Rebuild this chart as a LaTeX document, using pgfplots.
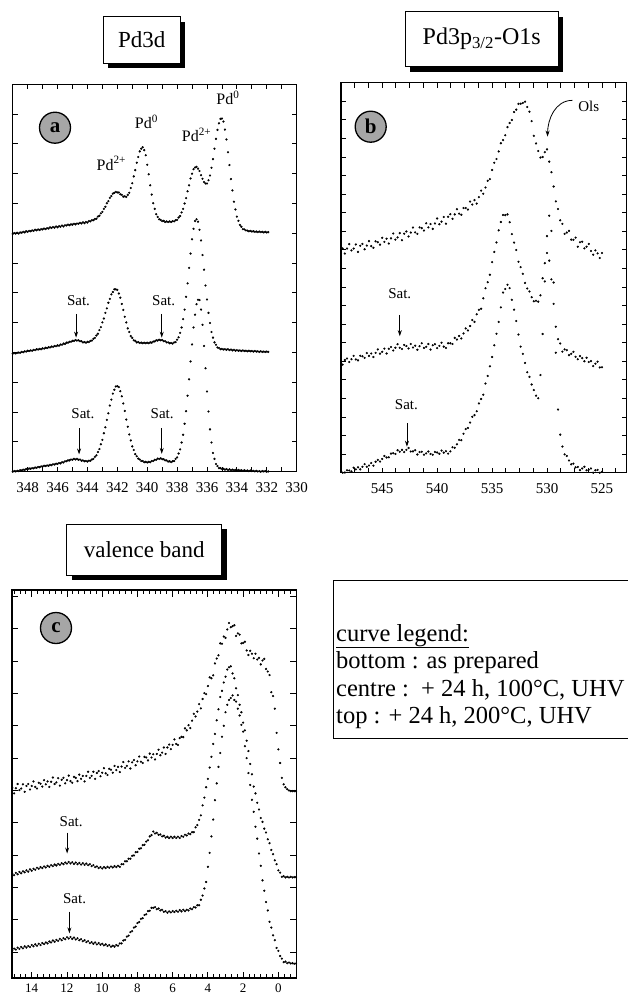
\documentclass[border=0pt]{standalone}
\usepackage{fontspec}
\setmainfont{Liberation Serif}
\usepackage{pgfplots}
\usepackage{pgfplotstable}
\pgfplotsset{compat=1.18}
\usetikzlibrary{arrows.meta}

\pgfplotstableread{
x b c t
349.0 0.00 3.96 7.98
348.9 0.02 3.98 8.01
348.8 0.01 3.97 7.99
348.7 0.03 3.99 8.02
348.6 0.02 4.00 7.99
348.5 0.05 3.99 8.03
348.4 0.04 4.02 8.02
348.3 0.07 4.01 8.05
348.2 0.06 4.04 8.03
348.1 0.09 4.03 8.07
348.0 0.08 4.06 8.05
347.9 0.11 4.05 8.08
347.8 0.10 4.07 8.07
347.7 0.12 4.06 8.10
347.6 0.11 4.09 8.08
347.5 0.14 4.08 8.12
347.4 0.13 4.11 8.10
347.3 0.16 4.10 8.13
347.2 0.15 4.12 8.11
347.1 0.18 4.11 8.14
347.0 0.17 4.14 8.13
346.9 0.20 4.13 8.16
346.8 0.19 4.16 8.14
346.7 0.21 4.15 8.17
346.6 0.20 4.18 8.16
346.5 0.23 4.17 8.20
346.4 0.22 4.20 8.18
346.3 0.25 4.19 8.21
346.2 0.24 4.22 8.19
346.1 0.27 4.21 8.23
346.0 0.26 4.24 8.20
345.9 0.29 4.23 8.24
345.8 0.28 4.27 8.22
345.7 0.32 4.26 8.26
345.6 0.31 4.30 8.23
345.5 0.35 4.29 8.27
345.4 0.35 4.33 8.26
345.3 0.38 4.33 8.29
345.2 0.38 4.36 8.27
345.1 0.41 4.36 8.30
345.0 0.40 4.39 8.29
344.9 0.43 4.39 8.32
344.8 0.41 4.42 8.30
344.7 0.43 4.40 8.33
344.6 0.40 4.41 8.32
344.5 0.41 4.38 8.35
344.4 0.37 4.38 8.33
344.3 0.38 4.34 8.37
344.2 0.35 4.35 8.34
344.1 0.36 4.33 8.38
344.0 0.34 4.36 8.36
343.9 0.37 4.35 8.41
343.8 0.37 4.39 8.40
343.7 0.41 4.40 8.44
343.6 0.43 4.46 8.44
343.5 0.50 4.49 8.48
343.4 0.55 4.57 8.49
343.3 0.66 4.63 8.56
343.2 0.76 4.75 8.59
343.1 0.92 4.85 8.67
343.0 1.07 5.01 8.72
342.9 1.29 5.14 8.82
342.8 1.49 5.33 8.89
342.7 1.74 5.48 9.01
342.6 1.96 5.67 9.08
342.5 2.22 5.80 9.19
342.4 2.42 5.95 9.25
342.3 2.62 6.03 9.33
342.2 2.75 6.12 9.36
342.1 2.86 6.12 9.39
342.0 2.87 6.10 9.37
341.9 2.84 5.98 9.37
341.8 2.70 5.84 9.31
341.7 2.53 5.63 9.29
341.6 2.29 5.43 9.23
341.5 2.04 5.20 9.24
341.4 1.75 5.01 9.22
341.3 1.51 4.81 9.29
341.2 1.25 4.69 9.36
341.1 1.05 4.55 9.52
341.0 0.85 4.49 9.68
340.9 0.73 4.41 9.91
340.8 0.59 4.39 10.12
340.7 0.52 4.34 10.37
340.6 0.44 4.35 10.56
340.5 0.41 4.32 10.75
340.4 0.36 4.33 10.84
340.3 0.36 4.31 10.89
340.2 0.32 4.33 10.79
340.1 0.33 4.31 10.62
340.0 0.31 4.33 10.30
339.9 0.33 4.31 9.98
339.8 0.32 4.34 9.61
339.7 0.36 4.33 9.30
339.6 0.36 4.37 9.01
339.5 0.40 4.37 8.82
339.4 0.40 4.41 8.64
339.3 0.44 4.40 8.55
339.2 0.43 4.43 8.47
339.1 0.45 4.41 8.45
339.0 0.42 4.42 8.41
338.9 0.42 4.38 8.42
338.8 0.38 4.38 8.38
338.7 0.38 4.34 8.40
338.6 0.34 4.34 8.38
338.5 0.35 4.31 8.40
338.4 0.32 4.32 8.38
338.3 0.35 4.30 8.41
338.2 0.36 4.34 8.40
338.1 0.43 4.35 8.44
338.0 0.48 4.43 8.45
337.9 0.61 4.51 8.53
337.8 0.75 4.66 8.58
337.7 0.98 4.84 8.70
337.6 1.24 5.12 8.82
337.5 1.61 5.44 9.00
337.4 2.03 5.87 9.18
337.3 2.55 6.32 9.41
337.2 3.10 6.84 9.61
337.1 3.70 7.32 9.84
337.0 4.27 7.80 10.00
336.9 4.84 8.15 10.15
336.8 5.27 8.41 10.21
336.7 5.62 8.47 10.23
336.6 5.77 8.39 10.17
336.5 5.76 8.12 10.09
336.4 5.44 7.76 9.95
336.3 4.93 7.27 9.83
336.2 4.22 6.78 9.72
336.1 3.47 6.25 9.67
336.0 2.69 5.78 9.67
335.9 2.02 5.33 9.78
335.8 1.42 4.99 9.94
335.7 0.98 4.69 10.20
335.6 0.63 4.50 10.49
335.5 0.43 4.34 10.84
335.4 0.26 4.26 11.17
335.3 0.19 4.17 11.47
335.2 0.12 4.15 11.69
335.1 0.12 4.11 11.84
335.0 0.09 4.12 11.85
334.9 0.10 4.10 11.75
334.8 0.07 4.11 11.48
334.7 0.09 4.09 11.15
334.6 0.06 4.11 10.72
334.5 0.08 4.08 10.29
334.4 0.05 4.10 9.82
334.3 0.07 4.07 9.44
334.2 0.05 4.09 9.06
334.1 0.06 4.06 8.80
334.0 0.04 4.08 8.56
333.9 0.06 4.06 8.42
333.8 0.04 4.07 8.28
333.7 0.05 4.05 8.22
333.6 0.03 4.07 8.14
333.5 0.05 4.05 8.13
333.4 0.03 4.06 8.10
333.3 0.04 4.04 8.09
333.2 0.02 4.06 8.07
333.1 0.04 4.04 8.08
333.0 0.02 4.05 8.06
332.9 0.03 4.03 8.07
332.8 0.01 4.05 8.05
332.7 0.03 4.03 8.06
332.6 0.01 4.04 8.04
332.5 0.02 4.02 8.06
332.4 0.00 4.04 8.04
332.3 0.02 4.02 8.05
332.2 0.01 4.03 8.03
332.1 0.02 4.02 8.05
332.0 0.00 4.03 8.03
331.9 0.01 4.02 8.04
}\dataA

\pgfplotstableread{
x b c t
548.6 0.00 5.82 12.08
548.4 0.01 6.07 11.80
548.2 0.13 6.15 12.07
548.0 0.12 5.96 12.31
547.8 0.07 6.11 11.97
547.6 0.27 6.29 12.07
547.4 0.18 6.10 12.29
547.2 0.29 6.05 11.89
547.0 0.18 6.30 12.22
546.8 0.32 6.27 12.32
546.6 0.46 6.18 12.03
546.4 0.32 6.44 12.23
546.2 0.39 6.29 12.47
546.0 0.52 6.42 12.20
545.8 0.38 6.23 12.11
545.6 0.59 6.45 12.46
545.4 0.69 6.64 12.41
545.2 0.60 6.41 12.28
545.0 0.74 6.51 12.65
544.8 0.90 6.68 12.43
544.6 0.82 6.42 12.60
544.4 0.83 6.67 12.34
544.2 1.03 6.77 12.62
544.0 1.05 6.58 12.88
543.8 1.01 6.73 12.55
543.6 1.21 6.92 12.67
543.4 1.13 6.73 12.90
543.2 1.23 6.66 12.52
543.0 1.11 6.88 12.87
542.8 1.23 6.82 12.99
542.6 1.33 6.69 12.72
542.4 1.14 6.93 12.93
542.2 1.15 6.74 13.20
542.0 1.21 6.84 12.94
541.8 0.98 6.62 12.86
541.6 1.11 6.81 13.21
541.4 1.13 6.97 13.17
541.2 0.97 6.72 13.04
541.0 1.04 6.78 13.43
540.8 1.14 6.93 13.21
540.6 1.01 6.63 13.39
540.4 0.97 6.86 13.13
540.2 1.12 6.92 13.42
540.0 1.09 6.71 13.69
539.8 1.02 6.83 13.38
539.6 1.19 7.00 13.52
539.4 1.08 6.79 13.77
539.2 1.16 6.72 13.41
539.0 1.03 6.97 13.78
538.8 1.15 6.97 13.92
538.6 1.37 6.93 13.67
538.4 1.34 7.26 13.91
538.2 1.53 7.17 14.19
538.0 1.77 7.36 13.95
537.8 1.75 7.23 13.89
537.6 2.10 7.50 14.25
537.4 2.35 7.77 14.25
537.2 2.41 7.66 14.17
537.0 2.70 7.90 14.60
536.8 3.01 8.22 14.44
536.6 3.10 8.12 14.68
536.4 3.31 8.53 14.49
536.2 3.73 8.77 14.84
536.0 3.97 8.83 15.19
535.8 4.20 9.39 15.02
535.6 4.80 9.93 15.36
535.4 5.21 10.26 15.72
535.2 5.73 10.66 15.81
535.0 6.23 11.34 16.30
534.8 6.86 11.89 16.69
534.6 7.48 12.40 16.89
534.4 8.12 13.05 17.30
534.2 8.90 13.50 17.74
534.0 9.70 13.88 17.91
533.8 9.89 13.87 18.17
533.6 10.12 13.91 18.61
533.4 9.94 13.49 18.83
533.2 9.31 12.85 18.99
533.0 8.78 12.39 19.42
532.8 8.17 11.99 19.55
532.6 7.44 11.36 19.86
532.4 6.79 11.07 19.87
532.2 6.40 10.71 19.91
532.0 5.91 10.22 19.98
531.8 5.41 9.92 19.69
531.6 5.16 9.76 19.44
531.4 4.75 9.45 18.93
531.2 4.45 9.23 18.14
531.0 4.15 9.26 17.73
530.8 4.01 9.21 17.32
530.6 5.26 9.55 16.97
530.4 7.47 10.47 17.00
530.2 10.30 11.28 17.26
530.0 12.74 11.83 17.41
529.8 13.84 11.42 16.75
529.6 13.02 10.41 16.18
529.4 10.24 9.09 15.41
529.2 6.46 7.86 14.61
529.0 3.40 7.19 14.20
528.8 2.05 6.96 13.59
528.6 1.41 6.52 13.40
528.4 0.99 6.64 12.86
528.2 0.90 6.60 12.93
528.0 0.66 6.33 13.02
527.8 0.45 6.40 12.55
527.6 0.49 6.51 12.54
527.4 0.29 6.24 12.66
527.2 0.31 6.11 12.17
527.0 0.14 6.28 12.41
526.8 0.23 6.17 12.44
526.6 0.32 6.00 12.08
526.4 0.13 6.19 12.17
526.2 0.16 5.96 12.32
526.0 0.23 6.01 11.94
525.8 0.00 5.74 11.74
525.6 0.13 5.87 11.97
525.4 0.15 5.98 11.81
525.2 0.00 5.67 11.56
525.0 0.05 5.68 11.83
}\dataB

\pgfplotstableread{
x b c t
15.1 0.86 3.22 5.88
15.0 0.91 3.18 5.71
14.9 0.88 3.25 5.87
14.8 0.94 3.21 6.00
14.7 0.90 3.28 5.81
14.6 0.96 3.24 5.86
14.5 0.92 3.30 5.99
14.4 0.98 3.27 5.76
14.3 0.94 3.33 5.94
14.2 0.99 3.29 6.00
14.1 0.96 3.36 5.83
14.0 1.02 3.32 5.94
13.9 0.98 3.38 6.08
13.8 1.04 3.35 5.91
13.7 1.00 3.41 5.86
13.6 1.06 3.38 6.04
13.5 1.02 3.43 6.01
13.4 1.08 3.40 5.92
13.3 1.05 3.45 6.12
13.2 1.10 3.42 5.99
13.1 1.07 3.47 6.08
13.0 1.13 3.44 5.91
12.9 1.10 3.49 6.07
12.8 1.16 3.46 6.20
12.7 1.12 3.51 6.00
12.6 1.18 3.48 6.05
12.5 1.15 3.53 6.18
12.4 1.21 3.50 5.95
12.3 1.17 3.55 6.13
12.2 1.23 3.52 6.19
12.1 1.20 3.57 6.02
12.0 1.26 3.54 6.12
11.9 1.22 3.59 6.26
11.8 1.27 3.54 6.09
11.7 1.21 3.58 6.04
11.6 1.25 3.53 6.22
11.5 1.19 3.57 6.19
11.4 1.23 3.52 6.09
11.3 1.17 3.56 6.29
11.2 1.20 3.51 6.16
11.1 1.14 3.55 6.25
11.0 1.17 3.50 6.08
10.9 1.11 3.54 6.25
10.8 1.14 3.49 6.38
10.7 1.08 3.52 6.19
10.6 1.11 3.46 6.25
10.5 1.06 3.49 6.38
10.4 1.10 3.43 6.16
10.3 1.04 3.45 6.34
10.2 1.08 3.40 6.40
10.1 1.03 3.43 6.24
10.0 1.06 3.39 6.35
9.9 1.01 3.43 6.49
9.8 1.04 3.40 6.33
9.7 0.99 3.44 6.28
9.6 1.02 3.41 6.47
9.5 0.97 3.45 6.44
9.4 1.00 3.42 6.35
9.3 0.97 3.46 6.56
9.2 1.02 3.43 6.43
9.1 1.00 3.47 6.53
9.0 1.07 3.44 6.37
8.9 1.07 3.52 6.54
8.8 1.16 3.52 6.68
8.7 1.18 3.61 6.50
8.6 1.28 3.61 6.56
8.5 1.31 3.69 6.70
8.4 1.42 3.69 6.48
8.3 1.45 3.78 6.67
8.2 1.56 3.79 6.74
8.1 1.59 3.89 6.58
8.0 1.70 3.90 6.70
7.9 1.73 4.00 6.85
7.8 1.83 4.01 6.69
7.7 1.85 4.11 6.65
7.6 1.95 4.12 6.84
7.5 1.97 4.22 6.82
7.4 2.07 4.26 6.73
7.3 2.08 4.38 6.94
7.2 2.17 4.42 6.82
7.1 2.17 4.53 6.92
7.0 2.19 4.47 6.76
6.9 2.13 4.49 6.93
6.8 2.15 4.43 7.06
6.7 2.09 4.44 6.89
6.6 2.11 4.38 6.97
6.5 2.05 4.40 7.13
6.4 2.07 4.34 6.93
6.3 2.02 4.37 7.13
6.2 2.06 4.33 7.22
6.1 2.03 4.37 7.08
6.0 2.07 4.33 7.21
5.9 2.04 4.37 7.38
5.8 2.08 4.33 7.24
5.7 2.05 4.37 7.21
5.6 2.10 4.33 7.42
5.5 2.06 4.39 7.46
5.4 2.11 4.37 7.45
5.3 2.07 4.43 7.72
5.2 2.11 4.41 7.66
5.1 2.09 4.47 7.82
5.0 2.15 4.45 7.73
4.9 2.13 4.51 7.96
4.8 2.19 4.51 8.17
4.7 2.18 4.66 8.09
4.6 2.25 4.73 8.24
4.5 2.25 4.89 8.47
4.4 2.42 5.03 8.34
4.3 2.55 5.34 8.63
4.2 2.77 5.58 8.81
4.1 2.97 5.90 8.78
4.0 3.44 6.16 9.03
3.9 3.87 6.51 9.30
3.8 4.38 6.84 9.27
3.7 4.90 7.24 9.36
3.6 5.50 7.55 9.73
3.5 6.02 7.97 9.88
3.4 6.53 8.31 9.98
3.3 6.96 8.69 10.35
3.2 7.46 8.88 10.34
3.1 7.80 9.14 10.56
3.0 8.22 9.32 10.52
2.9 8.45 9.54 10.78
2.8 8.60 9.61 10.98
2.7 8.66 9.64 10.85
2.6 8.74 9.42 10.88
2.5 8.60 9.27 10.91
2.4 8.55 8.96 10.58
2.3 8.33 8.75 10.66
2.2 8.12 8.45 10.62
2.1 7.83 8.22 10.35
2.0 7.62 7.90 10.36
1.9 7.17 7.66 10.40
1.8 6.80 7.34 10.13
1.7 6.34 7.02 9.99
1.6 5.97 6.62 10.12
1.5 5.51 6.30 10.03
1.4 5.14 5.92 9.89
1.3 4.68 5.71 10.03
1.2 4.31 5.42 9.85
1.1 3.85 5.21 9.90
1.0 3.47 4.95 9.70
0.9 3.02 4.83 9.82
0.8 2.70 4.62 9.87
0.7 2.35 4.50 9.56
0.6 2.09 4.29 9.48
0.5 1.74 4.17 9.37
0.4 1.56 3.96 8.84
0.3 1.32 3.83 8.72
0.2 1.17 3.64 8.33
0.1 0.93 3.52 7.58
0.0 0.84 3.33 7.07
-0.1 0.68 3.26 6.65
-0.2 0.60 3.13 6.19
-0.3 0.49 3.15 5.99
-0.4 0.51 3.11 5.90
-0.5 0.46 3.13 5.84
-0.6 0.48 3.11 5.80
-0.7 0.45 3.13 5.78
-0.8 0.46 3.11 5.78
-0.9 0.44 3.12 5.78
-1.0 0.45 3.12 5.78
}\dataC

\pgfplotsset{
  panel/.style={
    scale only axis, x dir=reverse,
    axis line style={line width=1.1pt},
    tick style={black, line width=0.9pt},
    tick align=inside,
    major tick length=5pt, minor tick length=5pt,
    yticklabels={},
    /pgf/number format/assume math mode=true,
    /pgf/number format/1000 sep={},
    xticklabel style={font=\fontsize{15}{15}\selectfont, yshift=-7pt},
  },
  dots/.style={only marks, mark=*, mark size=0.9pt, black, mark options={draw=none, fill=black}},
}
\tikzset{arr/.style={-{Stealth[length=6pt,width=4pt]}, line width=0.8pt}}

\begin{document}
\begin{tikzpicture}[x=1pt,y=1pt]
\path[use as bounding box] (0pt,0pt) rectangle (628pt,-997pt);

% ---------- panel a ----------
\begin{axis}[panel, at={(12.7pt,-471.7pt)}, anchor=south west,
  width=284pt, height=387.4pt,
  xmin=330, xmax=349, ymin=0, ymax=13,
  xtick={330,332,...,348}, minor xtick={331,333,...,349},
  ytick={0,1,...,13}]
\addplot[dots] table[x=x,y=b]{\dataA};
\addplot[dots] table[x=x,y=c]{\dataA};
\addplot[dots] table[x=x,y=t]{\dataA};
\node[font=\fontsize{16}{16}\selectfont] at (axis cs:342.4,10.35) {Pd\textsuperscript{2+}};
\node[font=\fontsize{16}{16}\selectfont] at (axis cs:340.05,11.75) {Pd\textsuperscript{0}};
\node[font=\fontsize{16}{16}\selectfont] at (axis cs:336.7,11.3) {Pd\textsuperscript{2+}};
\node[font=\fontsize{16}{16}\selectfont] at (axis cs:334.6,12.55) {Pd\textsuperscript{0}};
\node[font=\fontsize{15}{15}\selectfont] at (axis cs:344.6,5.75) {Sat.};
\node[font=\fontsize{15}{15}\selectfont] at (axis cs:338.9,5.75) {Sat.};
\node[font=\fontsize{15}{15}\selectfont] at (axis cs:344.3,1.95) {Sat.};
\node[font=\fontsize{15}{15}\selectfont] at (axis cs:339.0,1.95) {Sat.};
\draw[arr] (axis cs:344.76,5.3) -- (axis cs:344.76,4.5);
\draw[arr] (axis cs:339.03,5.3) -- (axis cs:339.03,4.5);
\draw[arr] (axis cs:344.56,1.45) -- (axis cs:344.56,0.58);
\draw[arr] (axis cs:339.03,1.45) -- (axis cs:339.03,0.6);
\end{axis}

% ---------- panel b ----------
\begin{axis}[panel, at={(341pt,-472.7pt)}, anchor=south west,
  width=285.7pt, height=390pt,
  xmin=522.75, xmax=548.75, ymin=0, ymax=21,
  xtick={525,530,...,545}, minor xtick={523.75,525,...,548.75},
  ytick={0,1,...,21}]
\addplot[dots] table[x=x,y=b]{\dataB};
\addplot[dots] table[x=x,y=c]{\dataB};
\addplot[dots] table[x=x,y=t]{\dataB};
\node[font=\fontsize{15}{15}\selectfont] at (axis cs:526.2,19.75) {Ols};
\draw[arr] (axis cs:527.7,20.05) to[out=180,in=90] (axis cs:529.95,18.1);
\node[font=\fontsize{15}{15}\selectfont] at (axis cs:543.4,9.66) {Sat.};
\draw[arr] (axis cs:543.4,8.5) -- (axis cs:543.4,7.35);
\node[font=\fontsize{15}{15}\selectfont] at (axis cs:542.8,3.65) {Sat.};
\draw[arr] (axis cs:542.75,2.66) -- (axis cs:542.75,1.4);
\end{axis}

% ---------- panel c ----------
\begin{axis}[panel, at={(12pt,-978pt)}, anchor=south west,
  width=284.7pt, height=388pt,
  xmin=-1.04, xmax=15.12, ymin=0, ymax=12,
  xtick={0,2,...,14}, minor xtick={-1,-0.66667,...,15},
  major tick length=6.5pt, minor tick length=4pt,
  xticklabel style={font=\fontsize{13}{13}\selectfont, inner sep=0.5pt, yshift=2pt},
  ytick={0.8,1.8,...,11.8}]
\addplot[dots] table[x=x,y=b]{\dataC};
\addplot[dots] table[x=x,y=c]{\dataC};
\addplot[dots] table[x=x,y=t]{\dataC};
\node[font=\fontsize{15}{15}\selectfont] at (axis cs:11.76,4.85) {Sat.};
\draw[arr] (axis cs:11.99,4.5) -- (axis cs:11.99,3.85);
\node[font=\fontsize{15}{15}\selectfont] at (axis cs:11.57,2.46) {Sat.};
\draw[arr] (axis cs:11.86,2.05) -- (axis cs:11.86,1.38);
\end{axis}

% ---------- panel labels ----------
\foreach \p/\l in {{(55pt,-127.7pt)}/a,{(370.7pt,-126.7pt)}/b,{(56pt,-628pt)}/c}{
  \node[circle, draw, line width=1.3pt, fill=black!35, minimum size=31pt, inner sep=0pt,
        font=\fontsize{21}{21}\selectfont\bfseries] at \p {\l};
}

% ---------- title boxes ----------
\fill (108.3pt,-21.7pt) rectangle (185pt,-68.3pt);
\draw[line width=1pt, fill=white] (103.3pt,-16.7pt) rectangle (180pt,-63.3pt);
\node[font=\fontsize{23}{23}\selectfont] at (141.7pt,-40pt) {Pd3d};

\fill (410pt,-16.7pt) rectangle (563.3pt,-71.7pt);
\draw[line width=1pt, fill=white] (405pt,-11.7pt) rectangle (558.3pt,-66.7pt);
\node[font=\fontsize{24}{24}\selectfont] at (481.7pt,-39.2pt) {Pd3p\textsubscript{3/2}-O1s};

\fill (71.7pt,-529pt) rectangle (226.7pt,-580pt);
\draw[line width=1pt, fill=white] (66.7pt,-524pt) rectangle (221.7pt,-575pt);
\node[font=\fontsize{23}{23}\selectfont] at (144.2pt,-549.5pt) {valence band};

% ---------- legend ----------
\draw[line width=0.8pt] (333.3pt,-580.7pt) rectangle (645pt,-738.3pt);
\begin{scope}[every node/.style={anchor=base west, inner sep=0pt, font=\fontsize{24.5}{24.5}\selectfont}]
\node at (336pt,-641pt) {\underline{curve legend:}};
\node at (336pt,-668pt) {bottom : as prepared};
\node at (336pt,-696pt) {centre :\ \ + 24 h, 100°C, UHV};
\node at (336pt,-723pt) {top : + 24 h, 200°C, UHV};
\end{scope}
\end{tikzpicture}
\end{document}
